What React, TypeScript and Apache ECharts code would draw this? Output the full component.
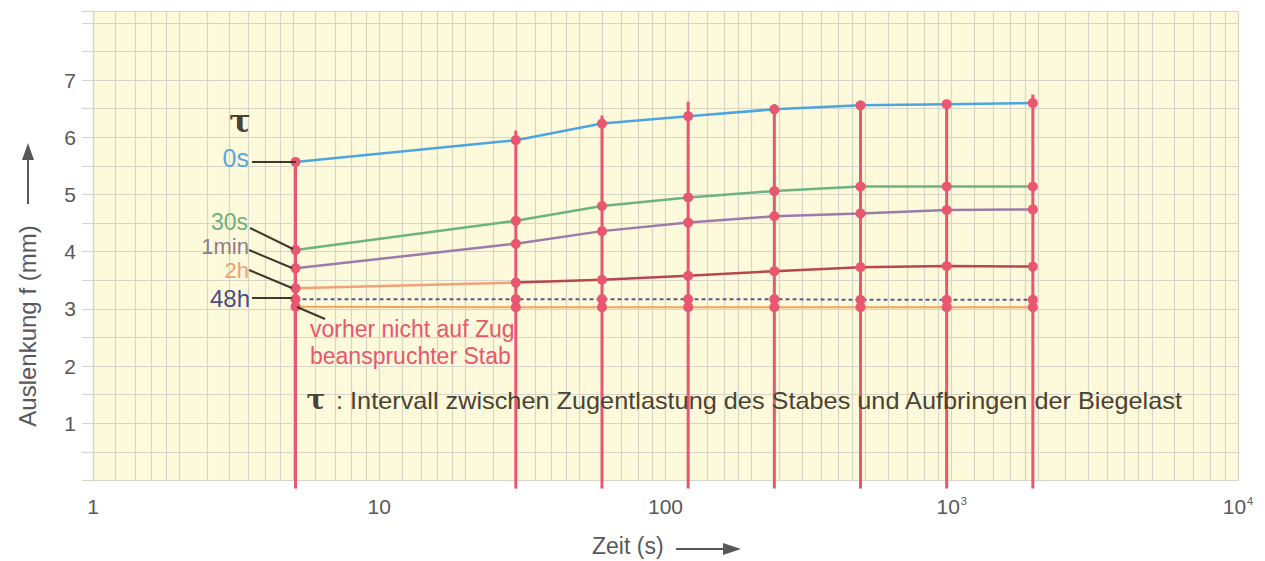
import React, { useEffect, useRef } from "react";
import * as echarts from "echarts";

// ---- data ----
const times = [5.1, 30, 60, 120, 240, 480, 960, 1920]; // Zeit (s)
const tau0s = [5.57, 5.95, 6.24, 6.37, 6.49, 6.56, 6.58, 6.6];
const tau30s = [4.03, 4.54, 4.8, 4.95, 5.06, 5.14, 5.14, 5.14];
const tau1min = [3.71, 4.14, 4.36, 4.51, 4.62, 4.67, 4.73, 4.74];
const tau2h = [3.36, 3.46, 3.51, 3.58, 3.66, 3.73, 3.75, 3.74];
const tau48h = [3.17, 3.17, 3.17, 3.17, 3.17, 3.16, 3.16, 3.16];
const virgin = [3.04, 3.03, 3.03, 3.03, 3.03, 3.03, 3.03, 3.03];
const stemTops = [5.57, 6.12, 6.38, 6.62, 6.58, 6.62, 6.64, 6.75];
const stemBottom = -0.14;

const xTickValues = [1, 10, 100, 1000, 10000];
const xTickTexts = ["1", "10", "100", "{b|10}{s|3}", "{b|10}{s|4}"];
const yTickValues = [1, 2, 3, 4, 5, 6, 7];
const minorMantissas = [1.2, 1.4, 1.6, 1.8, 2, 2.5, 3, 3.5, 4, 4.5, 5, 6, 7, 8, 9];
const decades = [1, 10, 100, 1000];

const PINK = "#e8566f";
const GRIDC = "#d6d5c7";
const YELLOW = "#fdfadb";
const AXT = "#585858";
const FONT = '"Liberation Sans", Arial, Helvetica, sans-serif';
const DARK = "#3f372a";

export default function App() {
  const ref = useRef<HTMLDivElement>(null);

  useEffect(() => {
    if (!ref.current) return;
    const chart = echarts.init(ref.current, null, { renderer: "svg" });

    const minorXs: number[] = [];
    decades.forEach((d) => minorMantissas.forEach((m) => minorXs.push(d * m)));

    const stems = times.map((t, i) => ({
      type: "line",
      data: [
        [t, stemBottom],
        [t, stemTops[i]],
      ],
      symbol: "none",
      clip: false,
      silent: true,
      lineStyle: { color: PINK, width: 3 },
      z: 2,
    }));

    const mk = (name: string, vals: number[], color: any, extra: any = {}) => ({
      type: "line",
      name,
      data: times.map((t, i) => [t, vals[i]]),
      symbol: "circle",
      symbolSize: 10,
      itemStyle: { color: PINK },
      lineStyle: { color, width: 2.5, ...extra },
      z: 3,
      silent: true,
    });

    const grad2h = new echarts.graphic.LinearGradient(0, 0, 1, 0, [
      { offset: 0, color: "#f0a17a" },
      { offset: 0.3, color: "#f0a17a" },
      { offset: 0.3, color: "#b8464f" },
      { offset: 1, color: "#b8464f" },
    ]);

    const labelStyle = (text: string, x: number, y: number, fill: string, size = 22) => ({
      type: "text",
      x,
      y,
      style: { text, fill, font: `${size}px ${FONT}`, textAlign: "right", textVerticalAlign: "middle" },
      z: 10,
    });
    const conn = (x1: number, y1: number, x2: number, y2: number) => ({
      type: "line",
      shape: { x1, y1, x2, y2 },
      style: { stroke: DARK, lineWidth: 2 },
      z: 10,
    });

    chart.setOption({
      animation: false,
      backgroundColor: "#ffffff",
      grid: {
        left: 93,
        right: 27,
        top: 11.5,
        bottom: 80.5,
        show: true,
        backgroundColor: YELLOW,
        borderWidth: 0,
      },
      xAxis: {
        type: "log",
        logBase: 10,
        min: 1,
        max: 10000,
        axisLine: { show: true, lineStyle: { color: GRIDC, width: 1.2 } },
        axisTick: { show: false },
        splitLine: { show: true, lineStyle: { color: GRIDC, width: 1.2 } },
        axisLabel: {
          margin: 15,
          color: AXT,
          fontFamily: FONT,
          fontSize: 21,
          formatter: (v: number) => {
            const i = xTickValues.findIndex((x) => Math.abs(x - v) < 1e-6 * x);
            return i >= 0 ? xTickTexts[i] : "";
          },
          rich: {
            b: { fontSize: 21, color: AXT, fontFamily: FONT },
            s: { fontSize: 11, color: AXT, fontFamily: FONT, verticalAlign: "top", padding: [0, 0, 11, 1] },
          },
        },
      },
      yAxis: {
        type: "value",
        min: 0,
        max: 8.2,
        interval: 0.5,
        axisLine: { show: true, lineStyle: { color: GRIDC, width: 1.2 } },
        axisTick: { show: true, interval: 0, length: 11, lineStyle: { color: GRIDC, width: 1.2 } },
        splitLine: { show: true, lineStyle: { color: GRIDC, width: 1.2 } },
        axisLabel: {
          interval: 0,
          margin: 17,
          color: AXT,
          fontFamily: FONT,
          fontSize: 21,
          formatter: (v: number) => (yTickValues.includes(v) ? String(v) : ""),
        },
      },
      series: [
        {
          type: "line",
          data: [],
          silent: true,
          markLine: {
            silent: true,
            symbol: ["none", "none"],
            label: { show: false },
            z: 1,
            lineStyle: { color: GRIDC, width: 1.2, type: "solid" },
            emphasis: { disabled: true },
            data: minorXs.map((v) => ({ xAxis: v })),
          },
        },
        ...stems,
        mk("vorher nicht auf Zug beanspruchter Stab", virgin, "#f4a35c", { width: 2 }),
        mk("48h", tau48h, "#5b5a8e", { width: 2, type: [4, 3] }),
        mk("2h", tau2h, grad2h),
        mk("1min", tau1min, "#9c7bab"),
        mk("30s", tau30s, "#6db37f"),
        mk("0s", tau0s, "#4ea4e0"),
      ],
      graphic: [
        {
          type: "text",
          x: 240,
          y: 121,
          style: { text: "\u03c4", fill: "#4b4233", font: `bold 32px "DejaVu Serif", serif`, textAlign: "center", textVerticalAlign: "middle" },
          z: 10,
        },
        labelStyle("0s", 249, 158, "#5aa8dc", 25),
        labelStyle("30s", 248, 222, "#6fb080", 23),
        labelStyle("1min", 249, 246, "#8c7c8c"),
        labelStyle("2h", 249, 270, "#f0a070"),
        labelStyle("48h", 250, 298, "#4b4b88", 24),
        conn(252, 162, 296, 162),
        conn(250, 228, 293, 249),
        conn(249, 250, 292, 268),
        conn(249, 270, 292, 288),
        conn(252, 298, 292, 298),
        conn(297, 307, 325, 319),
        {
          type: "text",
          x: 310,
          y: 329,
          style: { text: "vorher nicht auf Zug", fill: PINK, font: `23px ${FONT}`, textAlign: "left", textVerticalAlign: "middle" },
          z: 10,
        },
        {
          type: "text",
          x: 310,
          y: 356,
          style: { text: "beanspruchter Stab", fill: PINK, font: `23px ${FONT}`, textAlign: "left", textVerticalAlign: "middle" },
          z: 10,
        },
        {
          type: "text",
          x: 316,
          y: 399,
          style: { text: "\u03c4", fill: "#4b4233", font: `bold 28px "DejaVu Serif", serif`, textAlign: "center", textVerticalAlign: "middle" },
          z: 10,
        },
        {
          type: "text",
          x: 336,
          y: 401,
          scaleX: 1.1,
          style: {
            text: ": Intervall zwischen Zugentlastung des Stabes und Aufbringen der Biegelast",
            fill: "#4b4233",
            font: `23px ${FONT}`,
            textAlign: "left",
            textVerticalAlign: "middle",
          },
          z: 10,
        },
        {
          type: "text",
          x: 27,
          y: 326,
          rotation: Math.PI / 2,
          style: { text: "Auslenkung f (mm)", fill: AXT, font: `24px ${FONT}`, textAlign: "center", textVerticalAlign: "middle" },
          z: 10,
        },
        { type: "line", shape: { x1: 28, y1: 204, x2: 28, y2: 156 }, style: { stroke: AXT, lineWidth: 2 }, z: 10 },
        { type: "polygon", shape: { points: [[28, 143], [22, 160], [34, 160]] }, style: { fill: AXT }, z: 10 },
        {
          type: "text",
          x: 592,
          y: 546,
          style: { text: "Zeit (s)", fill: AXT, font: `23px ${FONT}`, textAlign: "left", textVerticalAlign: "middle" },
          z: 10,
        },
        { type: "line", shape: { x1: 676, y1: 549, x2: 726, y2: 549 }, style: { stroke: AXT, lineWidth: 2 }, z: 10 },
        { type: "polygon", shape: { points: [[741, 549], [723, 543], [723, 555]] }, style: { fill: AXT }, z: 10 },
      ],
    });

    return () => chart.dispose();
  }, []);

  return <div ref={ref} style={{ width: 1265, height: 561, position: "absolute", left: 0, top: 0 }} />;
}
